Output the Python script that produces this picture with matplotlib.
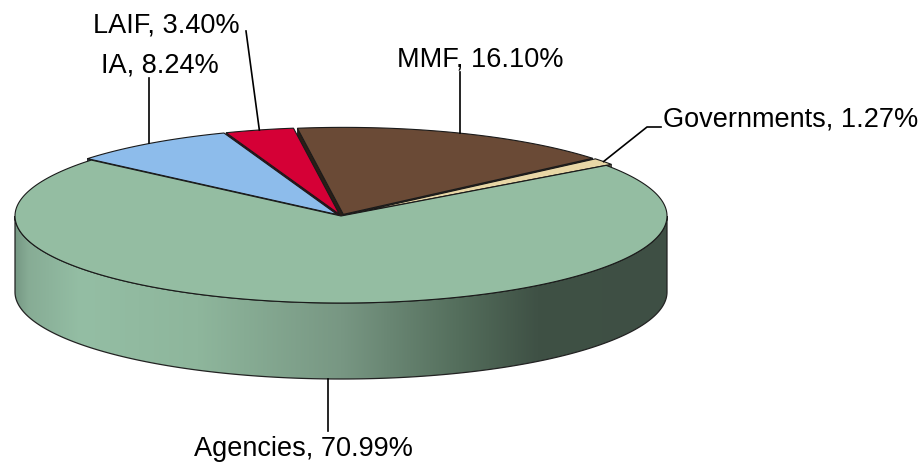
import numpy as np
import matplotlib
matplotlib.use("Agg")
import matplotlib.pyplot as plt
from matplotlib.patches import Polygon
from matplotlib.colors import to_rgb

# Portfolio composition
labels = ["Agencies", "Governments", "MMF", "LAIF", "IA"]
shares = [70.99, 1.27, 16.10, 3.40, 8.24]
colors = ["#94BDA2", "#E8D7A6", "#6A4A36", "#D50036", "#8DBCEB"]
explode = [0.0, 0.02, 0.02, 0.02, 0.02]

START_ANGLE = 140.0            # degrees, slices run counter-clockwise
CX, CY = 341.0, 217.0          # centre of the top face (pixels)
RX, RY = 326.0, 87.0           # ellipse radii of the top face
DEPTH = 76.0                   # wall height

plt.rcParams["font.family"] = ["Liberation Sans", "DejaVu Sans"]

fig = plt.figure(figsize=(9.22, 4.64), dpi=100)
ax = fig.add_axes([0, 0, 1, 1])
ax.set_axis_off()


def pt(t_deg, dx=0.0, dy=0.0, r=1.0):
    t = np.radians(t_deg)
    return CX + dx + r * RX * np.cos(t), CY + dy - r * RY * np.sin(t)


def darker(c, f):
    return tuple(v * f for v in to_rgb(c))


# angular extent of each slice
fracs = np.array(shares) / sum(shares)
bounds = START_ANGLE + np.concatenate([[0], np.cumsum(fracs) * 360])
slices = []
for i in range(len(labels)):
    t0, t1 = bounds[i], bounds[i + 1]
    mid = (t0 + t1) / 2
    e = explode[i]
    dx = e * RX * np.cos(np.radians(mid))
    dy = -e * RY * np.sin(np.radians(mid))
    slices.append((t0, t1, mid, dx, dy))

# ── radial walls of the back slices (only faces turned toward the viewer) ──
for i in range(1, len(labels)):
    t0, t1, mid, dx, dy = slices[i]
    for edge, normal in ((t0, t0 - 90), (t1, t1 + 90)):
        if np.sin(np.radians(normal)) < 0:
            ex, ey = pt(edge, dx, dy)
            quad = [(CX + dx, CY + dy), (ex, ey), (ex, ey + DEPTH), (CX + dx, CY + dy + DEPTH)]
            ax.add_patch(Polygon(quad, closed=True, facecolor=darker(colors[i], 0.4),
                                 edgecolor="#1a1a1a", linewidth=0.6, zorder=1))

# ── front wall of the large slice, shaded left to right ────────────────────
t0, t1, mid, dx, dy = slices[0]
arc = np.linspace(180, 360, 200)
top = [pt(a, dx, dy) for a in arc]
bot = [(x, y + DEPTH) for x, y in top[::-1]]
wall = Polygon(top + bot, closed=True, facecolor="none", edgecolor="#222222",
               linewidth=0.9, zorder=3)
ax.add_patch(wall)

stops = [0.0, 0.02, 0.10, 0.28, 0.50, 0.68, 0.80, 1.0]
stop_cols = np.array([(118, 152, 132), (135, 172, 149), (148, 190, 164), (142, 182, 156),
                      (120, 151, 131), (84, 110, 92), (63, 81, 69), (62, 79, 68)]) / 255.0
xs = np.linspace(0, 1, 600)
grad = np.stack([np.interp(xs, stops, stop_cols[:, k]) for k in range(3)], axis=-1)[None, :, :]
img = ax.imshow(grad, extent=(CX - RX, CX + RX, CY + DEPTH + RY + 2, CY - 5),
                aspect="auto", interpolation="bilinear", zorder=2)
img.set_clip_path(wall)

# ── top faces ───────────────────────────────────────────────────────────────
for i in list(range(1, len(labels))) + [0]:
    t0, t1, mid, dx, dy = slices[i]
    arc = np.linspace(t0, t1, max(int(t1 - t0) * 2, 4))
    poly = [(CX + dx, CY + dy)] + [pt(a, dx, dy) for a in arc]
    ax.add_patch(Polygon(poly, closed=True, facecolor=colors[i],
                         edgecolor="#1a1a1a", linewidth=0.8, zorder=4))

# ── labels with leader lines ────────────────────────────────────────────────
FS = 19.5
label_text = [f"{n}, {v:.2f}%" for n, v in zip(labels, shares)]


def anchor(i, drop=0.0):
    t0, t1, mid, dx, dy = slices[i]
    x, y = pt(mid, dx, dy)
    return x, y + drop


lk = dict(color="black", linewidth=1.2, zorder=5)

# Agencies (bottom)
ax0 = anchor(0, DEPTH)
ax.plot([ax0[0], ax0[0]], [ax0[1], 432], **lk)
ax.text(303, 456, label_text[0], fontsize=FS, ha="center", va="baseline")

# Governments (right, elbow)
g = anchor(1)
ax.plot([g[0], 647, 661], [g[1], 128, 128], **lk)
ax.text(663, 127, label_text[1], fontsize=FS, ha="left", va="baseline")

# MMF
m = anchor(2)
ax.plot([m[0], m[0]], [m[1], 73], **lk)
ax.text(480, 67, label_text[2], fontsize=FS, ha="center", va="baseline")

# LAIF
l = anchor(3)
ax.plot([l[0], 246], [l[1], 32], **lk)
ax.text(166, 32, label_text[3], fontsize=FS, ha="center", va="baseline")

# IA
a = anchor(4)
ax.plot([a[0], a[0]], [a[1], 79], **lk)
ax.text(160, 73, label_text[4], fontsize=FS, ha="center", va="baseline")

ax.set_xlim(0, 922)
ax.set_ylim(464, 0)

fig.savefig("out.png", dpi=100, facecolor="white")
plt.close(fig)
